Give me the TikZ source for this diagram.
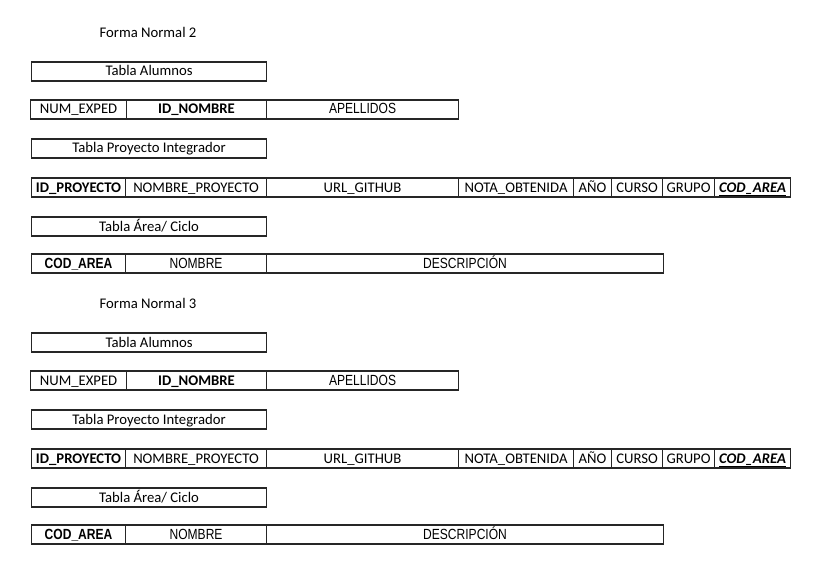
\documentclass[tikz,border=0pt]{standalone}
\usepackage{fontspec}
\setmainfont{Carlito}
\newfontfamily\narrowfont[FakeStretch=0.82]{Liberation Sans}
\newcommand\drawsection[2]{%
  \node[titletext] (#1t) at (148,32) {Forma Normal #2};
  \node[cell, minimum width=235pt] (#1alu) at (31,71.5) {Tabla Alumnos};
  \node[cell, minimum width=96pt]  (#1a1) at (30,109.5) {NUM\_EXPED};
  \node[cell, minimum width=140pt, font=\cellfont\bfseries] (#1a2) at (126,109.5) {ID\_NOMBRE};
  \node[cell, minimum width=192pt, font=\narrowcell] (#1a3) at (266,109.5) {APELLIDOS};
  \node[cell, minimum width=235pt] (#1pro) at (31,148.5) {Tabla Proyecto Integrador};
  \node[cell, minimum width=94pt, font=\cellfont\bfseries] (#1p1) at (31,187.5) {ID\_PROYECTO};
  \node[cell, minimum width=141pt] (#1p2) at (125,187.5) {NOMBRE\_PROYECTO};
  \node[cell, minimum width=192pt] (#1p3) at (266,187.5) {URL\_GITHUB};
  \node[cell, minimum width=115pt] (#1p4) at (458,187.5) {NOTA\_OBTENIDA};
  \node[cell, minimum width=38pt]  (#1p5) at (573,187.5) {AÑO};
  \node[cell, minimum width=51pt]  (#1p6) at (611,187.5) {CURSO};
  \node[cell, minimum width=52pt]  (#1p7) at (662,187.5) {GRUPO};
  \node[cell, minimum width=76pt]  (#1p8) at (714,187.5) {\underline{\textbf{\textit{COD\_AREA}}}};
  \node[cell, minimum width=235pt] (#1are) at (31,226.5) {Tabla Área/ Ciclo};
  \node[cell, minimum width=94pt, font=\narrowcell\bfseries] (#1r1) at (31,263.5) {COD\_AREA};
  \node[cell, minimum width=141pt, font=\narrowcell] (#1r2) at (125,263.5) {NOMBRE};
  \node[cell, minimum width=397pt, font=\narrowcell] (#1r3) at (266,263.5) {DESCRIPCIÓN};
}
\newcommand\cellfont{\fontsize{14.7}{16}\selectfont}
\newcommand\narrowcell{\narrowfont\fontsize{14.7}{16}\selectfont}
\begin{document}
\begin{tikzpicture}[x=1pt,y=-1pt,
  cell/.style={draw=black!85, line width=1.1pt, inner sep=0pt,
    minimum height=19pt, text height=10.5pt, text depth=1.5pt,
    anchor=west, font=\cellfont, text=black},
  titletext/.style={inner sep=0pt, font=\cellfont, text=black}]
\useasboundingbox[fill=white] (0,0) rectangle (822,567);
\drawsection{a}{2}
\begin{scope}[yshift=-271pt]
\drawsection{b}{3}
\end{scope}
\end{tikzpicture}
\end{document}
